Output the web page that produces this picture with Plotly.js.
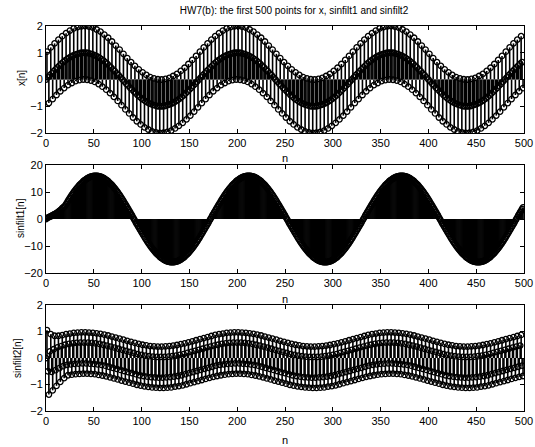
<!DOCTYPE html>
<html><head><meta charset="utf-8">
<script src="https://cdn.plot.ly/plotly-3.0.1.min.js"></script>
<style>html,body{margin:0;padding:0;background:#fff}#chart{width:535px;height:447px}</style>
</head><body><div id="chart"></div>
<script>
// x[n], n = 0..499
const xSignal = [
0,1.04,0.08,-0.88,0.16,1.2,0.23,-0.73,0.31,1.35,0.38,-0.58,0.45,1.49,0.52,-0.44,0.59,1.62,0.65,-0.32,
0.71,1.73,0.76,-0.21,0.81,1.83,0.85,-0.13,0.89,1.91,0.92,-0.06,0.95,1.96,0.97,-0.02,0.99,1.99,1,0,
1,2,1,-0.01,0.99,1.98,0.97,-0.04,0.95,1.94,0.92,-0.09,0.89,1.87,0.85,-0.17,0.81,1.79,0.76,-0.27,
0.71,1.68,0.65,-0.38,0.59,1.56,0.52,-0.51,0.45,1.42,0.38,-0.65,0.31,1.27,0.23,-0.8,0.16,1.12,0.08,-0.96,
0,0.96,-0.08,-1.12,-0.16,0.8,-0.23,-1.27,-0.31,0.65,-0.38,-1.42,-0.45,0.51,-0.52,-1.56,-0.59,0.38,-0.65,-1.68,
-0.71,0.27,-0.76,-1.79,-0.81,0.17,-0.85,-1.87,-0.89,0.09,-0.92,-1.94,-0.95,0.04,-0.97,-1.98,-0.99,0.01,-1,-2,
-1,0,-1,-1.99,-0.99,0.02,-0.97,-1.96,-0.95,0.06,-0.92,-1.91,-0.89,0.13,-0.85,-1.83,-0.81,0.21,-0.76,-1.73,
-0.71,0.32,-0.65,-1.62,-0.59,0.44,-0.52,-1.49,-0.45,0.58,-0.38,-1.35,-0.31,0.73,-0.23,-1.2,-0.16,0.88,-0.08,-1.04,
0,1.04,0.08,-0.88,0.16,1.2,0.23,-0.73,0.31,1.35,0.38,-0.58,0.45,1.49,0.52,-0.44,0.59,1.62,0.65,-0.32,
0.71,1.73,0.76,-0.21,0.81,1.83,0.85,-0.13,0.89,1.91,0.92,-0.06,0.95,1.96,0.97,-0.02,0.99,1.99,1,0,
1,2,1,-0.01,0.99,1.98,0.97,-0.04,0.95,1.94,0.92,-0.09,0.89,1.87,0.85,-0.17,0.81,1.79,0.76,-0.27,
0.71,1.68,0.65,-0.38,0.59,1.56,0.52,-0.51,0.45,1.42,0.38,-0.65,0.31,1.27,0.23,-0.8,0.16,1.12,0.08,-0.96,
0,0.96,-0.08,-1.12,-0.16,0.8,-0.23,-1.27,-0.31,0.65,-0.38,-1.42,-0.45,0.51,-0.52,-1.56,-0.59,0.38,-0.65,-1.68,
-0.71,0.27,-0.76,-1.79,-0.81,0.17,-0.85,-1.87,-0.89,0.09,-0.92,-1.94,-0.95,0.04,-0.97,-1.98,-0.99,0.01,-1,-2,
-1,0,-1,-1.99,-0.99,0.02,-0.97,-1.96,-0.95,0.06,-0.92,-1.91,-0.89,0.13,-0.85,-1.83,-0.81,0.21,-0.76,-1.73,
-0.71,0.32,-0.65,-1.62,-0.59,0.44,-0.52,-1.49,-0.45,0.58,-0.38,-1.35,-0.31,0.73,-0.23,-1.2,-0.16,0.88,-0.08,-1.04,
0,1.04,0.08,-0.88,0.16,1.2,0.23,-0.73,0.31,1.35,0.38,-0.58,0.45,1.49,0.52,-0.44,0.59,1.62,0.65,-0.32,
0.71,1.73,0.76,-0.21,0.81,1.83,0.85,-0.13,0.89,1.91,0.92,-0.06,0.95,1.96,0.97,-0.02,0.99,1.99,1,0,
1,2,1,-0.01,0.99,1.98,0.97,-0.04,0.95,1.94,0.92,-0.09,0.89,1.87,0.85,-0.17,0.81,1.79,0.76,-0.27,
0.71,1.68,0.65,-0.38,0.59,1.56,0.52,-0.51,0.45,1.42,0.38,-0.65,0.31,1.27,0.23,-0.8,0.16,1.12,0.08,-0.96,
0,0.96,-0.08,-1.12,-0.16,0.8,-0.23,-1.27,-0.31,0.65,-0.38,-1.42,-0.45,0.51,-0.52,-1.56,-0.59,0.38,-0.65,-1.68,
-0.71,0.27,-0.76,-1.79,-0.81,0.17,-0.85,-1.87,-0.89,0.09,-0.92,-1.94,-0.95,0.04,-0.97,-1.98,-0.99,0.01,-1,-2,
-1,0,-1,-1.99,-0.99,0.02,-0.97,-1.96,-0.95,0.06,-0.92,-1.91,-0.89,0.13,-0.85,-1.83,-0.81,0.21,-0.76,-1.73,
-0.71,0.32,-0.65,-1.62,-0.59,0.44,-0.52,-1.49,-0.45,0.58,-0.38,-1.35,-0.31,0.73,-0.23,-1.2,-0.16,0.88,-0.08,-1.04,
0,1.04,0.08,-0.88,0.16,1.2,0.23,-0.73,0.31,1.35,0.38,-0.58,0.45,1.49,0.52,-0.44,0.59,1.62,0.65,-0.32
];

// sinfilt1[n], n = 0..499
const sinfilt1 = [
0,0.3,0.5,0.7,0.9,1,1.2,1.4,1.6,1.8,2,2.2,2.4,2.7,3,3.3,3.6,4,4.3,4.6,
4.9,5.5,6.1,6.7,7.3,7.8,8.4,8.9,9.4,9.9,10.4,10.9,11.3,11.7,12.2,12.6,12.9,13.3,13.6,14,14.3,14.5,14.8,15,15.2,15.4,15.6,15.7,15.8,15.9,16,16,16,
16,16,15.9,15.8,15.7,15.6,15.4,15.2,15,14.8,14.5,14.3,14,13.6,13.3,12.9,12.6,12.2,11.7,11.3,10.9,10.4,9.9,9.4,8.9,8.4,7.8,7.3,6.7,6.1,5.5,4.9,4.3,3.7,3.1,2.5,1.9,1.3,0.6,0,
-0.6,-1.3,-1.9,-2.5,-3.1,-3.7,-4.3,-4.9,-5.5,-6.1,-6.7,-7.3,-7.8,-8.4,-8.9,-9.4,-9.9,-10.4,-10.9,-11.3,-11.7,-12.2,-12.6,-12.9,-13.3,-13.6,-14,-14.3,-14.5,-14.8,-15,-15.2,-15.4,-15.6,-15.7,-15.8,-15.9,-16,-16,-16,
-16,-16,-15.9,-15.8,-15.7,-15.6,-15.4,-15.2,-15,-14.8,-14.5,-14.3,-14,-13.6,-13.3,-12.9,-12.6,-12.2,-11.7,-11.3,-10.9,-10.4,-9.9,-9.4,-8.9,-8.4,-7.8,-7.3,-6.7,-6.1,-5.5,-4.9,-4.3,-3.7,-3.1,-2.5,-1.9,-1.3,-0.6,
0,0.6,1.3,1.9,2.5,3.1,3.7,4.3,
4.9,5.5,6.1,6.7,7.3,7.8,8.4,8.9,9.4,9.9,10.4,10.9,11.3,11.7,12.2,12.6,12.9,13.3,13.6,14,14.3,14.5,14.8,15,15.2,15.4,15.6,15.7,15.8,15.9,16,16,16,
16,16,15.9,15.8,15.7,15.6,15.4,15.2,15,14.8,14.5,14.3,14,13.6,13.3,12.9,12.6,12.2,11.7,11.3,10.9,10.4,9.9,9.4,8.9,8.4,7.8,7.3,6.7,6.1,5.5,4.9,4.3,3.7,3.1,2.5,1.9,1.3,0.6,0,
-0.6,-1.3,-1.9,-2.5,-3.1,-3.7,-4.3,-4.9,-5.5,-6.1,-6.7,-7.3,-7.8,-8.4,-8.9,-9.4,-9.9,-10.4,-10.9,-11.3,-11.7,-12.2,-12.6,-12.9,-13.3,-13.6,-14,-14.3,-14.5,-14.8,-15,-15.2,-15.4,-15.6,-15.7,-15.8,-15.9,-16,-16,-16,
-16,-16,-15.9,-15.8,-15.7,-15.6,-15.4,-15.2,-15,-14.8,-14.5,-14.3,-14,-13.6,-13.3,-12.9,-12.6,-12.2,-11.7,-11.3,-10.9,-10.4,-9.9,-9.4,-8.9,-8.4,-7.8,-7.3,-6.7,-6.1,-5.5,-4.9,-4.3,-3.7,-3.1,-2.5,-1.9,-1.3,-0.6,
0,0.6,1.3,1.9,2.5,3.1,3.7,4.3,
4.9,5.5,6.1,6.7,7.3,7.8,8.4,8.9,9.4,9.9,10.4,10.9,11.3,11.7,12.2,12.6,12.9,13.3,13.6,14,14.3,14.5,14.8,15,15.2,15.4,15.6,15.7,15.8,15.9,16,16,16,
16,16,15.9,15.8,15.7,15.6,15.4,15.2,15,14.8,14.5,14.3,14,13.6,13.3,12.9,12.6,12.2,11.7,11.3,10.9,10.4,9.9,9.4,8.9,8.4,7.8,7.3,6.7,6.1,5.5,4.9,4.3,3.7,3.1,2.5,1.9,1.3,0.6,0,
-0.6,-1.3,-1.9,-2.5,-3.1,-3.7,-4.3,-4.9,-5.5,-6.1,-6.7,-7.3,-7.8,-8.4,-8.9,-9.4,-9.9,-10.4,-10.9,-11.3,-11.7,-12.2,-12.6,-12.9,-13.3,-13.6,-14,-14.3,-14.5,-14.8,-15,-15.2,-15.4,-15.6,-15.7,-15.8,-15.9,-16,-16,-16,
-16,-16,-15.9,-15.8,-15.7,-15.6,-15.4,-15.2,-15,-14.8,-14.5,-14.3,-14,-13.6,-13.3,-12.9,-12.6,-12.2,-11.7,-11.3,-10.9,-10.4,-9.9,-9.4,-8.9,-8.4,-7.8,-7.3,-6.7,-6.1,-5.5,-4.9,-4.3,-3.7,-3.1,-2.5,-1.9,-1.3,-0.6,
0,0.6,1.3,1.9,2.5,3.1,3.7,4.3
];

// sinfilt2[n], n = 0..499
const sinfilt2 = [
0,1.05,-0.5,-1.38,0.25,0.9,-0.52,-1.22,0.33,0.84,-0.46,-1.05,0.4,0.84,-0.38,-0.9,0.45,0.86,-0.31,-0.76,
0.5,0.9,-0.26,-0.65,0.53,0.92,-0.24,-0.63,0.55,0.95,-0.22,-0.61,0.57,0.96,-0.21,-0.6,0.58,0.97,-0.2,-0.59,
0.58,0.97,-0.2,-0.59,0.58,0.96,-0.21,-0.6,0.57,0.95,-0.22,-0.61,0.55,0.93,-0.24,-0.64,0.53,0.91,-0.26,-0.66,
0.5,0.88,-0.29,-0.69,0.47,0.85,-0.33,-0.73,0.43,0.81,-0.37,-0.77,0.39,0.77,-0.41,-0.81,0.35,0.73,-0.45,-0.85,
0.31,0.69,-0.49,-0.89,0.27,0.65,-0.53,-0.93,0.23,0.61,-0.57,-0.97,0.19,0.57,-0.61,-1.01,0.15,0.53,-0.65,-1.04,
0.12,0.5,-0.68,-1.07,0.09,0.48,-0.7,-1.09,0.07,0.45,-0.72,-1.11,0.05,0.44,-0.73,-1.12,0.04,0.43,-0.74,-1.13,
0.04,0.43,-0.74,-1.13,0.04,0.44,-0.73,-1.12,0.05,0.45,-0.72,-1.11,0.07,0.47,-0.7,-1.08,0.09,0.49,-0.68,-1.06,
0.12,0.52,-0.65,-1.03,0.15,0.55,-0.61,-0.99,0.19,0.59,-0.57,-0.95,0.23,0.63,-0.53,-0.91,0.27,0.67,-0.49,-0.87,
0.31,0.71,-0.45,-0.83,0.35,0.75,-0.41,-0.79,0.39,0.79,-0.37,-0.75,0.43,0.83,-0.33,-0.71,0.47,0.87,-0.29,-0.68,
0.5,0.9,-0.26,-0.65,0.53,0.92,-0.24,-0.63,0.55,0.95,-0.22,-0.61,0.57,0.96,-0.21,-0.6,0.58,0.97,-0.2,-0.59,
0.58,0.97,-0.2,-0.59,0.58,0.96,-0.21,-0.6,0.57,0.95,-0.22,-0.61,0.55,0.93,-0.24,-0.64,0.53,0.91,-0.26,-0.66,
0.5,0.88,-0.29,-0.69,0.47,0.85,-0.33,-0.73,0.43,0.81,-0.37,-0.77,0.39,0.77,-0.41,-0.81,0.35,0.73,-0.45,-0.85,
0.31,0.69,-0.49,-0.89,0.27,0.65,-0.53,-0.93,0.23,0.61,-0.57,-0.97,0.19,0.57,-0.61,-1.01,0.15,0.53,-0.65,-1.04,
0.12,0.5,-0.68,-1.07,0.09,0.48,-0.7,-1.09,0.07,0.45,-0.72,-1.11,0.05,0.44,-0.73,-1.12,0.04,0.43,-0.74,-1.13,
0.04,0.43,-0.74,-1.13,0.04,0.44,-0.73,-1.12,0.05,0.45,-0.72,-1.11,0.07,0.47,-0.7,-1.08,0.09,0.49,-0.68,-1.06,
0.12,0.52,-0.65,-1.03,0.15,0.55,-0.61,-0.99,0.19,0.59,-0.57,-0.95,0.23,0.63,-0.53,-0.91,0.27,0.67,-0.49,-0.87,
0.31,0.71,-0.45,-0.83,0.35,0.75,-0.41,-0.79,0.39,0.79,-0.37,-0.75,0.43,0.83,-0.33,-0.71,0.47,0.87,-0.29,-0.68,
0.5,0.9,-0.26,-0.65,0.53,0.92,-0.24,-0.63,0.55,0.95,-0.22,-0.61,0.57,0.96,-0.21,-0.6,0.58,0.97,-0.2,-0.59,
0.58,0.97,-0.2,-0.59,0.58,0.96,-0.21,-0.6,0.57,0.95,-0.22,-0.61,0.55,0.93,-0.24,-0.64,0.53,0.91,-0.26,-0.66,
0.5,0.88,-0.29,-0.69,0.47,0.85,-0.33,-0.73,0.43,0.81,-0.37,-0.77,0.39,0.77,-0.41,-0.81,0.35,0.73,-0.45,-0.85,
0.31,0.69,-0.49,-0.89,0.27,0.65,-0.53,-0.93,0.23,0.61,-0.57,-0.97,0.19,0.57,-0.61,-1.01,0.15,0.53,-0.65,-1.04,
0.12,0.5,-0.68,-1.07,0.09,0.48,-0.7,-1.09,0.07,0.45,-0.72,-1.11,0.05,0.44,-0.73,-1.12,0.04,0.43,-0.74,-1.13,
0.04,0.43,-0.74,-1.13,0.04,0.44,-0.73,-1.12,0.05,0.45,-0.72,-1.11,0.07,0.47,-0.7,-1.08,0.09,0.49,-0.68,-1.06,
0.12,0.52,-0.65,-1.03,0.15,0.55,-0.61,-0.99,0.19,0.59,-0.57,-0.95,0.23,0.63,-0.53,-0.91,0.27,0.67,-0.49,-0.87,
0.31,0.71,-0.45,-0.83,0.35,0.75,-0.41,-0.79,0.39,0.79,-0.37,-0.75,0.43,0.83,-0.33,-0.71,0.47,0.87,-0.29,-0.68
];

const nTicks = [0,50,100,150,200,250,300,350,400,450,500];
const yTicksX = [-2,-1,0,1,2];
const yTicksF1 = [-20,-10,0,10,20];
const yTicksF2 = [-2,-1,0,1,2];
const chartTitle = 'HW7(b): the first 500 points for x, sinfilt1 and sinfilt2';
const yLabels = ['x[n]', 'sinfilt1[n]', 'sinfilt2[n]'];
const xLabel = 'n';

const W = 535, H = 447;
const FONT = 'Liberation Sans, Arial, Helvetica, sans-serif';

function stemTraces(vals, xa, ya) {
  const idx = vals.map((_, i) => i);
  const lx = [], ly = [];
  vals.forEach((v, i) => { lx.push(i, i, null); ly.push(0, v, null); });
  return [
    {type:'scatter', mode:'lines', x:lx, y:ly, xaxis:xa, yaxis:ya,
     line:{color:'#000', width:1.6}, hoverinfo:'skip', showlegend:false},
    {type:'scatter', mode:'markers', x:idx, y:vals, xaxis:xa, yaxis:ya,
     marker:{symbol:'circle-open', size:5.5, color:'#000', line:{width:1.3, color:'#000'}},
     showlegend:false}
  ];
}

const data = [].concat(
  stemTraces(xSignal, 'x', 'y'),
  stemTraces(sinfilt1, 'x2', 'y2'),
  stemTraces(sinfilt2, 'x3', 'y3')
);

const xdom = [46 / W, 524 / W];
const ydom = (top, bottom) => [1 - bottom / H, 1 - top / H];

function xAxis(anchor) {
  return {
    domain: xdom, anchor: anchor, range: [0, 500], tickvals: nTicks,
    ticks: 'inside', ticklen: 4, tickcolor: '#000', showline: true, mirror: 'ticks',
    linecolor: '#000', linewidth: 1, showgrid: false, zeroline: false,
    tickfont: {family: FONT, size: 11, color: '#000'}, automargin: false
  };
}
function yAxis(anchor, dom, range, ticks) {
  return {
    domain: dom, anchor: anchor, range: range, tickvals: ticks,
    ticks: 'inside', ticklen: 4, tickcolor: '#000', showline: true, mirror: 'ticks',
    linecolor: '#000', linewidth: 1, showgrid: false, zeroline: false,
    tickfont: {family: FONT, size: 11, color: '#000'}, automargin: false
  };
}

function ann(text, px, py, angle, size) {
  return {text: text, x: px / W, y: 1 - py / H, xref: 'paper', yref: 'paper',
    showarrow: false, xanchor: 'center', yanchor: 'middle', textangle: angle || 0,
    font: {family: FONT, size: size || 11, color: '#000'}};
}

const layout = {
  width: W, height: H,
  margin: {l: 0, r: 0, t: 0, b: 0, pad: 0},
  paper_bgcolor: '#fff', plot_bgcolor: '#fff',
  showlegend: false,
  title: {text: chartTitle, x: 294 / W, y: 1 - 10 / H, xanchor: 'center', yanchor: 'middle',
          font: {family: FONT, size: 10, color: '#000'}},
  xaxis: xAxis('y'),
  yaxis: yAxis('x', ydom(26, 133), [-2, 2], yTicksX),
  xaxis2: xAxis('y2'),
  yaxis2: yAxis('x2', ydom(165, 273), [-20, 20], yTicksF1),
  xaxis3: xAxis('y3'),
  yaxis3: yAxis('x3', ydom(305, 411), [-2, 2], yTicksF2),
  annotations: [
    ann(yLabels[0], 22, 78, -90, 10),
    ann(yLabels[1], 20, 218, -90, 10),
    ann(yLabels[2], 17, 358, -90, 10),
    ann(xLabel, 285, 158, 0, 11),
    ann(xLabel, 285, 299, 0, 11),
    ann(xLabel, 285, 440, 0, 11)
  ]
};

Plotly.newPlot('chart', data, layout, {staticPlot: true, displayModeBar: false});
</script>
</body></html>
